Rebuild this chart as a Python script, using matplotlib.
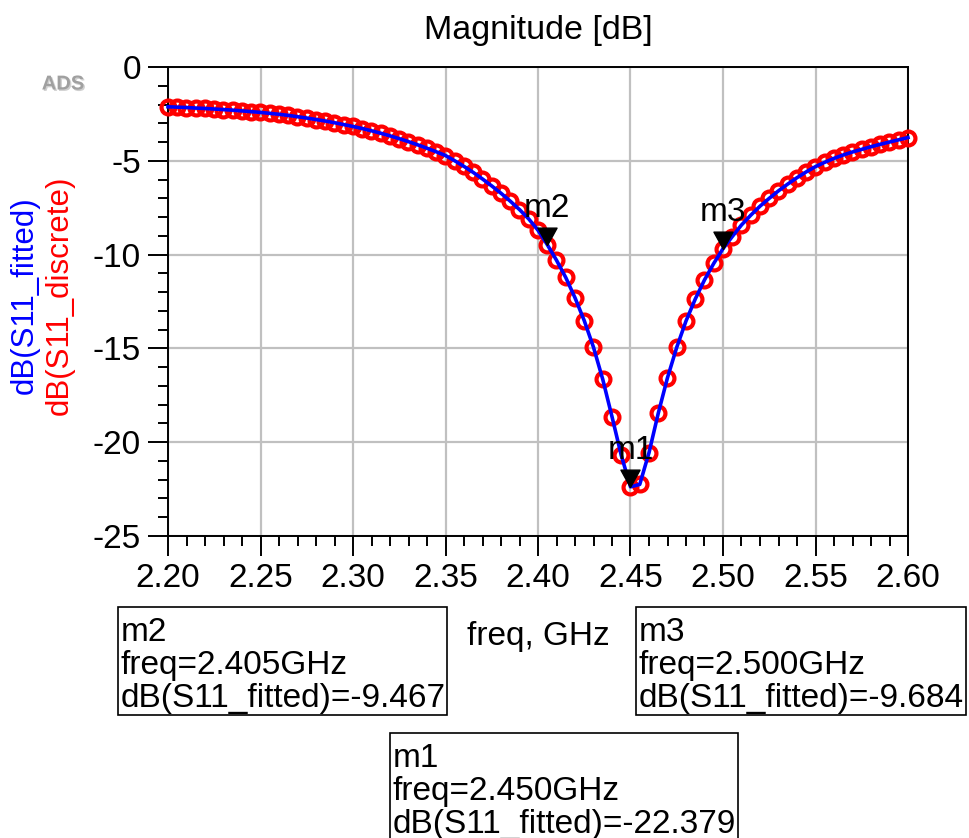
import numpy as np
import matplotlib
matplotlib.use("Agg")
import matplotlib.pyplot as plt
from matplotlib.ticker import MultipleLocator, FormatStrFormatter
from matplotlib.patches import Rectangle
import matplotlib.patheffects as pe

plt.rcParams['font.family'] = ['Liberation Sans', 'DejaVu Sans']

# Frequency sweep (GHz) and measured / fitted return loss (dB)
freq = [2.200, 2.205, 2.210, 2.215, 2.220, 2.225, 2.230, 2.235, 2.240, 2.245,
        2.250, 2.255, 2.260, 2.265, 2.270, 2.275, 2.280, 2.285, 2.290, 2.295,
        2.300, 2.305, 2.310, 2.315, 2.320, 2.325, 2.330, 2.335, 2.340, 2.345,
        2.350, 2.355, 2.360, 2.365, 2.370, 2.375, 2.380, 2.385, 2.390, 2.395,
        2.400, 2.405, 2.410, 2.415, 2.420, 2.425, 2.430, 2.435, 2.440, 2.445,
        2.450, 2.455, 2.460, 2.465, 2.470, 2.475, 2.480, 2.485, 2.490, 2.495,
        2.500, 2.505, 2.510, 2.515, 2.520, 2.525, 2.530, 2.535, 2.540, 2.545,
        2.550, 2.555, 2.560, 2.565, 2.570, 2.575, 2.580, 2.585, 2.590, 2.595,
        2.600]
s11_discrete = [-2.12, -2.14, -2.16, -2.19, -2.21, -2.24, -2.27, -2.30, -2.34, -2.38,
                -2.42, -2.47, -2.52, -2.58, -2.65, -2.72, -2.80, -2.88, -2.97, -3.07,
                -3.17, -3.28, -3.40, -3.53, -3.67, -3.82, -3.98, -4.15, -4.33, -4.52,
                -4.72, -5.00, -5.30, -5.62, -5.97, -6.34, -6.73, -7.15, -7.60, -8.10,
                -8.70, -9.467, -10.30, -11.22, -12.30, -13.52, -14.94, -16.65, -18.64, -20.70,
                -22.379, -22.25, -20.56, -18.46, -16.56, -14.94, -13.54, -12.37, -11.35, -10.47,
                -9.684, -9.04, -8.42, -7.90, -7.42, -7.00, -6.60, -6.24, -5.90, -5.59,
                -5.31, -5.08, -4.87, -4.69, -4.53, -4.39, -4.25, -4.12, -4.00, -3.88,
                -3.76]
s11_fitted = list(s11_discrete)

# Markers: name, frequency (GHz), value (dB)
marker_names = ["m1", "m2", "m3"]
marker_freq = [2.450, 2.405, 2.500]
marker_db = [-22.379, -9.467, -9.684]

W, H = 970, 838
fig = plt.figure(figsize=(W / 100, H / 100), dpi=100)
ax = fig.add_axes([168 / W, 1 - 536 / H, (908 - 168) / W, (536 - 67) / H])

ax.plot(freq, s11_discrete, linestyle='none', marker='o', markersize=10,
        markerfacecolor='none', markeredgecolor='#ff0000', markeredgewidth=3.0,
        clip_on=False, zorder=3)
ax.plot(freq, s11_fitted, color='#0000ff', linewidth=2.6, zorder=4,
        clip_on=False)

# Down-pointing triangle with its tip on the data point
tri = [(0, 0), (-0.55, 1.0), (0.55, 1.0), (0, 0)]
for name, f, v in zip(marker_names, marker_freq, marker_db):
    ax.plot([f], [v], linestyle='none', marker=tri, markersize=25,
            color='black', zorder=6, clip_on=False)
    ax.annotate(name, (f, v), xytext=(0, 15), textcoords='offset points',
                ha='center', va='bottom', fontsize=24, zorder=7)

ax.set_xlim(2.2, 2.6)
ax.set_ylim(-25, 0)
ax.xaxis.set_major_locator(MultipleLocator(0.05))
ax.xaxis.set_minor_locator(MultipleLocator(0.01))
ax.yaxis.set_major_locator(MultipleLocator(5))
ax.yaxis.set_minor_locator(MultipleLocator(1))
ax.xaxis.set_major_formatter(FormatStrFormatter('%.2f'))
ax.yaxis.set_major_formatter(FormatStrFormatter('%d'))
ax.tick_params(which='major', direction='out', length=14.5, width=1.4,
               labelsize=24, pad=5)
ax.tick_params(which='minor', direction='out', length=7, width=1.4)
ax.grid(True, which='major', color='#c0c0c0', linewidth=1.6)
ax.set_axisbelow(True)
for sp in ax.spines.values():
    sp.set_linewidth(1.4)
    sp.set_color('black')

fig.text(538 / W, 1 - 30 / H, "Magnitude [dB]", ha='center', va='center',
         fontsize=24.5)
fig.text(25 / W, 1 - 295 / H, "dB(S11_fitted)", color='#0000ff',
         rotation=90, ha='center', va='center', fontsize=22.5)
fig.text(60 / W, 1 - 295 / H, "dB(S11_discrete)", color='#ff0000',
         rotation=90, ha='center', va='center', fontsize=22.5)
fig.text(538 / W, 1 - 637 / H, "freq, GHz", ha='center', va='center',
         fontsize=24)

fig.text(63 / W, 1 - 84 / H, "ADS", ha='center', va='center', fontsize=14.5,
         fontweight='bold', color='#a0a0a0',
         path_effects=[pe.withSimplePatchShadow(offset=(1, -1),
                                                shadow_rgbFace='#cfcfcf',
                                                alpha=1.0)])

# Marker readout boxes (pixel rectangles: left, top, right, bottom)
readouts = [
    ("m2", (118, 607, 447, 715)),
    ("m3", (636, 607, 966, 715)),
    ("m1", (390, 733, 738, 840)),
]
for name, (x0, y0, x1, y1) in readouts:
    i = marker_names.index(name)
    fig.patches.append(Rectangle((x0 / W, 1 - y1 / H), (x1 - x0) / W,
                                 (y1 - y0) / H, transform=fig.transFigure,
                                 fill=False, edgecolor='black', linewidth=1.2))
    lines = [name,
             "freq=%.3fGHz" % marker_freq[i],
             "dB(S11_fitted)=%.3f" % marker_db[i]]
    for k, txt in enumerate(lines):
        fig.text((x0 + 3) / W, 1 - (y0 + 25 + 33 * k) / H, txt,
                 ha='left', va='center', fontsize=24)

fig.savefig("out.png", dpi=100)
